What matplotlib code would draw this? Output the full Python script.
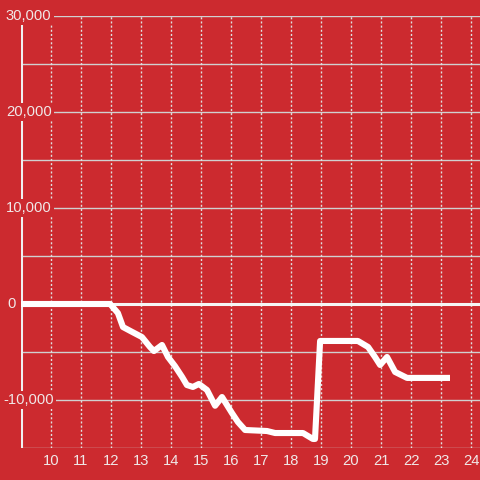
import matplotlib
matplotlib.use("Agg")
import matplotlib.pyplot as plt
import matplotlib.transforms as mtransforms

# ---- data ----
x_vals = [9.0, 11.97, 12.23, 12.4, 12.7, 13.03, 13.3, 13.43, 13.7, 13.9, 14.13,
          14.37, 14.53, 14.73, 14.93, 15.2, 15.47, 15.7, 16.03, 16.23, 16.47,
          17.2, 17.47, 18.4, 18.73, 18.8, 18.97, 20.23, 20.57, 20.8, 20.97,
          21.2, 21.47, 21.87, 23.3]
y_vals = [0, 0, -940, -2400, -2900, -3440, -4480, -4900, -4270, -5520, -6460,
          -7600, -8440, -8640, -8330, -8960, -10600, -9690, -11350, -12290, -13125,
          -13230, -13440, -13440, -14060, -14060, -3850, -3850, -4480, -5520, -6350,
          -5520, -7080, -7700, -7700]
x_ticks = list(range(10, 25))
y_major = [-10000, 0, 10000, 20000, 30000]
y_major_labels = ["-10,000", "0", "10,000", "20,000", "30,000"]
y_minor = [-15000, -5000, 5000, 15000, 25000]

BG = "#cc2a2f"
TXT = "#f0e8e8"
GRID = "#d0d0d0"

plt.rcParams['font.family'] = ['Liberation Sans', 'DejaVu Sans']

fig = plt.figure(figsize=(4.8, 4.8), dpi=100, facecolor=BG)
ax = fig.add_axes([21/480, 32/480, 459/480, 432/480], facecolor=BG)
ax.set_xlim(9, 9 + 459/30)
ax.set_ylim(-15000, 30000)

for s in ax.spines.values():
    s.set_visible(False)

# gridlines
for v in y_major + y_minor:
    if v == 0:
        continue
    ax.axhline(v, color=GRID, lw=1, zorder=1)
for xt in x_ticks:
    ax.axvline(xt, color="#e0e0e0", lw=1, ls=(0, (1.5, 1.5)), zorder=1)

# zero line
ax.axhline(0, color="#f5f5f5", lw=2.2, zorder=2)
# y axis line
ax.axvline(9, color="#f0f0f0", lw=2.2, zorder=2)

# data line
ax.plot(x_vals, y_vals, color="white", lw=4.4, solid_joinstyle='round',
        solid_capstyle='butt', zorder=3, clip_on=False)

ax.set_xticks([])
ax.set_yticks([])

FS = 10.6
# x tick labels
trans_x = mtransforms.blended_transform_factory(ax.transData, ax.transAxes)
for xt in x_ticks:
    ax.text(xt, -13/432, str(xt), transform=trans_x, ha='center', va='center',
            color=TXT, fontsize=FS, clip_on=False)

# y tick labels (with red background covering axis/grid)
trans_y = mtransforms.blended_transform_factory(ax.transAxes, ax.transData)
for v, lab in zip(y_major, y_major_labels):
    if lab == "0":
        xa, ha = -5/459, 'right'
    else:
        xa, ha = -15/459, 'left'
        if lab.startswith("-"):
            xa = -18/459
    ax.text(xa, v, lab, transform=trans_y, ha=ha, va='center', color=TXT,
            fontsize=FS, zorder=5, clip_on=False,
            bbox=dict(facecolor=BG, edgecolor='none', pad=1.5))

fig.savefig("out.png", dpi=100, facecolor=BG)
